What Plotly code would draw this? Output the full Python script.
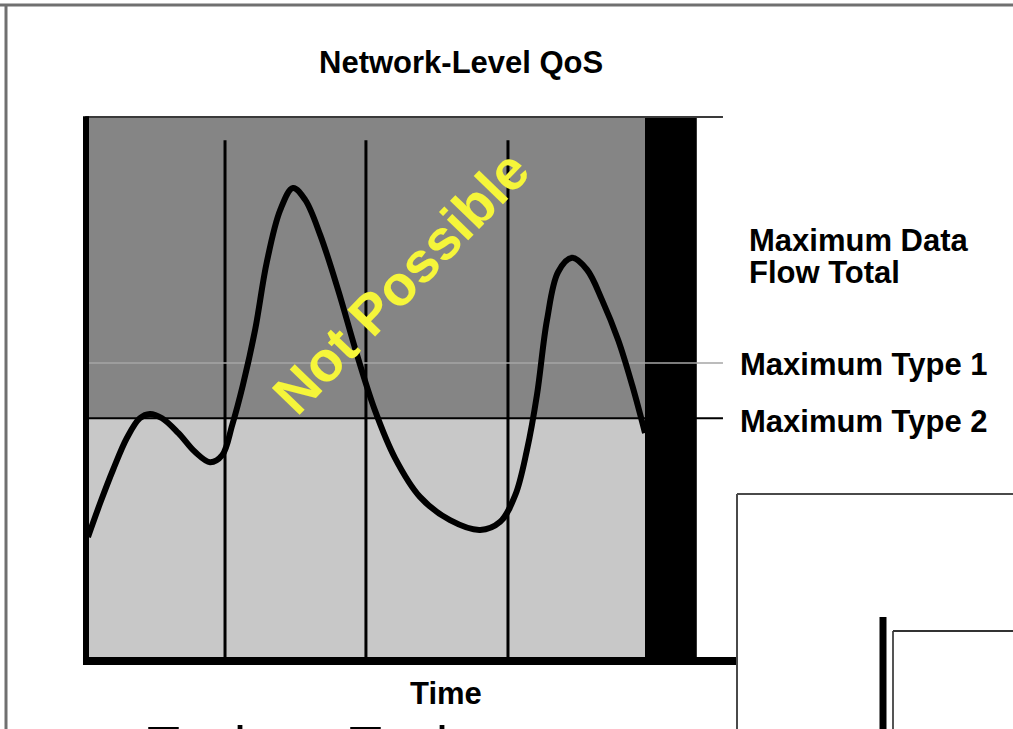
import plotly.graph_objects as go

# ---------------- data ----------------
# time axis: 0 = left edge of plot, 100 = start of the black reserve bar
time = [0.0, 2.2, 4.5, 7.0, 9.3, 11.1, 13.3, 16.2, 19.2, 21.9, 24.1, 25.9,
        27.8, 30.0, 32.1, 34.5, 36.8, 39.0, 41.7, 44.9, 48.3, 51.5, 55.1,
        59.6, 65.0, 70.4, 74.0, 76.7, 78.8, 80.6, 82.4, 84.4, 86.9, 89.6,
        92.3, 95.2, 97.7, 100.0]
# data flow: 0 = time axis, 100 = maximum data flow total
flow = [22.7, 29.0, 35.1, 41.0, 44.6, 45.4, 44.6, 41.9, 38.4, 36.5, 37.8, 43.4,
        50.7, 60.9, 73.4, 83.0, 87.1, 84.9, 78.4, 68.3, 56.3, 46.1, 37.3,
        30.1, 25.8, 24.0, 25.5, 30.4, 38.7, 48.9, 62.7, 71.6, 74.2, 72.0,
        66.4, 59.0, 50.7, 41.9]
grid_times = [24.6, 49.9, 75.4]
grid_top = 95.9
max_total = 100.0
max_type1 = 54.8
max_type2 = 44.6
time_end = 100.0
reserve_end = 109.3
label_end = 114.0
axis_end = 116.5

title_text = "Network-Level QoS"
x_label = "Time"
level_labels = ["Maximum Data", "Flow Total", "Maximum Type 1", "Maximum Type 2"]
zone_label = "Not Possible"
next_words = ["Tools", "Tools"]

W, H = 1013, 729
FONT = "Liberation Sans, Arial, Helvetica, sans-serif"


def px(x):
    return x / W


def py(y):
    return 1 - y / H


fig = go.Figure()

# vertical time dividers
gx, gy = [], []
for t in grid_times:
    gx += [t, t, None]
    gy += [0, grid_top, None]
fig.add_trace(go.Scatter(x=gx, y=gy, mode="lines",
                         line=dict(color="black", width=3), hoverinfo="skip"))
# threshold lines
fig.add_trace(go.Scatter(x=[0, label_end], y=[max_type2, max_type2], mode="lines",
                         line=dict(color="black", width=2), hoverinfo="skip"))
fig.add_trace(go.Scatter(x=[0, label_end], y=[max_type1, max_type1], mode="lines",
                         line=dict(color="#a6a6a6", width=1.5), hoverinfo="skip"))
# data flow curve
fig.add_trace(go.Scatter(x=time, y=flow, mode="lines",
                         line=dict(color="black", width=6, shape="spline", smoothing=1.0),
                         hoverinfo="skip"))

shapes = [
    # light zone
    dict(type="rect", xref="x", yref="y", x0=0, x1=time_end, y0=0, y1=max_type2,
         fillcolor="#c8c8c8", line=dict(width=0), layer="below"),
    # dark zone
    dict(type="rect", xref="x", yref="y", x0=0, x1=time_end, y0=max_type2, y1=max_total,
         fillcolor="#858585", line=dict(width=0), layer="below"),
    # black reserve bar
    dict(type="rect", xref="x", yref="y", x0=time_end, x1=reserve_end, y0=0, y1=max_total + 0.2,
         fillcolor="black", line=dict(width=0), layer="below"),
    # top limit line
    dict(type="line", xref="x", yref="y", x0=-0.5, x1=label_end, y0=max_total + 0.2,
         y1=max_total + 0.2, line=dict(color="#3a3a3a", width=2), layer="below"),
    # axes
    dict(type="line", xref="x", yref="y", x0=-0.36, x1=-0.36, y0=-0.9, y1=max_total + 0.3,
         line=dict(color="black", width=6)),
    dict(type="line", xref="x", yref="y", x0=-0.9, x1=axis_end, y0=-0.2, y1=-0.2,
         line=dict(color="black", width=8)),
    # slide frame
    dict(type="line", xref="paper", yref="paper", x0=0, x1=1, y0=py(5), y1=py(5),
         line=dict(color="#707070", width=3)),
    dict(type="line", xref="paper", yref="paper", x0=px(6), x1=px(6), y0=py(4), y1=py(735),
         line=dict(color="#707070", width=3)),
    # inset picture at lower right
    dict(type="line", xref="paper", yref="paper", x0=px(737), x1=px(737), y0=py(494), y1=py(735),
         line=dict(color="#4a4a4a", width=2)),
    dict(type="line", xref="paper", yref="paper", x0=px(737), x1=px(1015), y0=py(494), y1=py(494),
         line=dict(color="#4a4a4a", width=2)),
    dict(type="line", xref="paper", yref="paper", x0=px(883), x1=px(883), y0=py(617), y1=py(735),
         line=dict(color="black", width=7)),
    dict(type="line", xref="paper", yref="paper", x0=px(893), x1=px(893), y0=py(631), y1=py(735),
         line=dict(color="#555555", width=2)),
    dict(type="line", xref="paper", yref="paper", x0=px(893), x1=px(1015), y0=py(631), y1=py(631),
         line=dict(color="#333333", width=2)),
]


def label(text, x, y, xanchor="left", size=31, bold=True, color="black", angle=0, yanchor="middle"):
    return dict(text=f"<b>{text}</b>" if bold else text, x=px(x), y=py(y),
                xref="paper", yref="paper", xanchor=xanchor, yanchor=yanchor,
                showarrow=False, textangle=angle,
                font=dict(family=FONT, size=size, color=color))


annotations = [
    label(title_text, 461, 63, xanchor="center"),
    label(x_label, 446, 693, xanchor="center"),
    label(level_labels[0], 747, 240),
    label(level_labels[1], 747, 273),
    label(level_labels[2], 738, 364),
    label(level_labels[3], 738, 422),
    label(zone_label, 400, 282, xanchor="center", size=56, color="#f5f53a", angle=-46),
    label(next_words[0], 145, 713, bold=False, size=54, yanchor="top"),
    label(next_words[1], 347, 713, bold=False, size=54, yanchor="top"),
]

fig.update_layout(
    width=W, height=H,
    margin=dict(l=0, r=0, t=0, b=0, pad=0),
    paper_bgcolor="white", plot_bgcolor="white",
    showlegend=False,
    xaxis=dict(range=[-15.80, 166.07], visible=False, fixedrange=True),
    yaxis=dict(range=[-12.73, 121.77], visible=False, fixedrange=True),
    shapes=shapes,
    annotations=annotations,
)

fig.write_html("out.html", config={"displayModeBar": False},
               post_script="document.body.style.margin='0';document.body.style.overflow='hidden';")
